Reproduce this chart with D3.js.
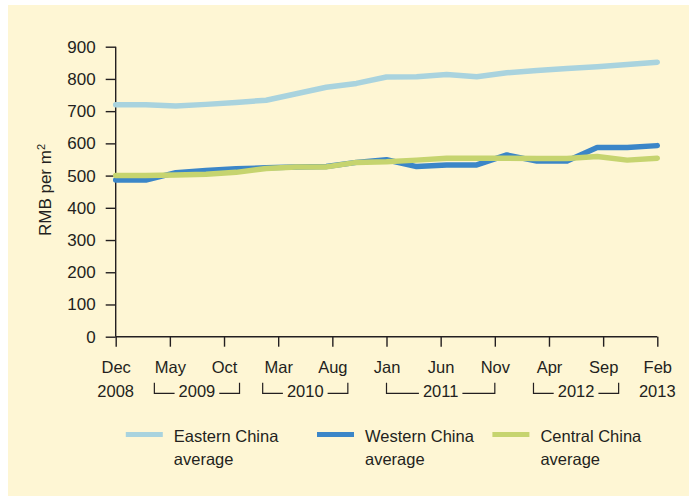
<!DOCTYPE html>
<html>
<head>
<meta charset="UTF-8">
<title>RMB per m2 - Eastern, Western and Central China</title>
<script src="https://cdn.jsdelivr.net/npm/d3@7"></script>
<style>
body { margin: 0; background: #fff; }
svg { display: block; }
text { font-family: "Liberation Sans", Arial, sans-serif; fill: #231f20; }
.axis line, .axis path { stroke: #231f20; stroke-width: 1.4px; fill: none; }
.series { fill: none; stroke-width: 5.5px; stroke-linejoin: round; stroke-linecap: round; }
.bracket { fill: none; stroke: #231f20; stroke-width: 1.2px; }
</style>
</head>
<body>
<svg id="chart" width="689" height="496"></svg>
<script>
// tick labels along the bottom (every 5 months, Dec 2008 .. Feb 2013)
var months = ["Dec", "May", "Oct", "Mar", "Aug", "Jan", "Jun", "Nov", "Apr", "Sep", "Feb"];
var edgeYears = [{tick: 0, year: "2008"}, {tick: 10, year: "2013"}];
var yearGroups = [
  {year: "2009", first: 1, last: 2},
  {year: "2010", first: 3, last: 4},
  {year: "2011", first: 5, last: 7},
  {year: "2012", first: 8, last: 9}
];
var yTicks = [0, 100, 200, 300, 400, 500, 600, 700, 800, 900];

// values, RMB per m2
var eastern = [720, 720, 716, 721, 727, 734, 754, 774, 786, 806, 807, 814, 807, 819, 826, 832, 838, 845, 852];
var western = [486, 486, 509, 516, 521, 524, 527, 528, 541, 549, 528, 533, 533, 564, 545, 545, 587, 587, 593];
var central = [500, 500, 502, 504, 510, 522, 527, 527, 541, 543, 548, 554, 554, 554, 553, 553, 559, 548, 554];

var seriesNames = ["Eastern China average", "Western China average", "Central China average"];
var colors = ["#a9d3de", "#3b86c8", "#c6d46f"];

var svg = d3.select("#chart");
var W = 689, H = 496;
var margin = {left: 115.7, top: 46.7, right: 31.7, bottom: 159.3};
var width = W - margin.left - margin.right,
    height = H - margin.top - margin.bottom;

svg.append("rect").attr("x", 8).attr("y", 5).attr("width", W - 8).attr("height", H - 5).attr("fill", "#fef6d4");

var g = svg.append("g").attr("transform", "translate(" + margin.left + "," + margin.top + ")");

var y = d3.scaleLinear().domain([0, 900]).range([height, 0]);
var xTick = d3.scaleLinear().domain([0, months.length - 1]).range([0, width]);
var xPt = d3.scaleLinear().domain([0, eastern.length - 1]).range([0, width]);

// y axis
var yAxis = g.append("g").attr("class", "axis")
    .call(d3.axisLeft(y).tickValues(yTicks).tickSize(10).tickPadding(10).tickSizeOuter(0));
yAxis.select(".domain").remove();
yAxis.append("line").attr("x1", 0).attr("x2", 0).attr("y1", y(900)).attr("y2", y(0));
yAxis.selectAll("text").style("font-size", "17px").attr("fill", "#231f20");

// x axis
var xAxis = g.append("g").attr("class", "axis").attr("transform", "translate(0," + height + ")")
    .call(d3.axisBottom(xTick).tickValues(d3.range(months.length)).tickSize(10).tickFormat(function(d) { return months[d]; }).tickPadding(0));
xAxis.select(".domain").remove();
xAxis.append("line").attr("x1", 0).attr("x2", width).attr("y1", 0).attr("y2", 0);
xAxis.selectAll(".tick text").attr("y", 36.8).attr("dy", null).style("font-size", "16.5px").attr("fill", "#231f20");

// years under the months
var yearBase = height + 60.8;
g.selectAll(".edgeyear").data(edgeYears).enter().append("text")
    .attr("class", "edgeyear")
    .attr("x", function(d) { return xTick(d.tick); })
    .attr("y", yearBase)
    .attr("text-anchor", "middle")
    .style("font-size", "16.5px")
    .text(function(d) { return d.year; });

yearGroups.forEach(function(gr) {
  var pad = gr.last - gr.first > 1 ? 0 : 15.5;
  var x0 = xTick(gr.first) - pad, x1 = xTick(gr.last) + pad, xm = (x0 + x1) / 2;
  var t = g.append("text").attr("x", xm).attr("y", yearBase).attr("text-anchor", "middle")
      .style("font-size", "16.5px").text(gr.year);
  var half = t.node().getComputedTextLength() / 2 + 4;
  var top = height + 46, bot = height + 56.6;
  g.append("path").attr("class", "bracket")
      .attr("d", "M" + x0 + "," + top + "V" + bot + "H" + (xm - half));
  g.append("path").attr("class", "bracket")
      .attr("d", "M" + (xm + half) + "," + bot + "H" + x1 + "V" + top);
});

// y label
var yl = svg.append("text")
    .attr("transform", "translate(51,190) rotate(-90)")
    .attr("text-anchor", "middle")
    .style("font-size", "17px");
yl.append("tspan").text("RMB per m");
yl.append("tspan").attr("baseline-shift", "super").style("font-size", "11px").text("2");

// lines
var line = d3.line().x(function(d, i) { return xPt(i); }).y(function(d) { return y(d); });
[eastern, western, central].forEach(function(s, i) {
  g.append("path").attr("class", "series").attr("d", line(s)).attr("stroke", colors[i]);
});

// legend
var legendX = [125.8, 317, 492.4];
seriesNames.forEach(function(name, i) {
  var lg = svg.append("g").attr("transform", "translate(" + legendX[i] + ",434.5)");
  lg.append("line").attr("x1", 0).attr("x2", 37).attr("y1", 0).attr("y2", 0)
    .attr("stroke", colors[i]).attr("stroke-width", 5);
  var words = name.split(" ");
  var tx = lg.append("text").attr("x", 48).attr("y", 7).style("font-size", "16.5px");
  tx.append("tspan").attr("x", 48).text(words[0] + " " + words[1]);
  tx.append("tspan").attr("x", 48).attr("dy", 23).text(words[2]);
});
</script>
</body>
</html>
